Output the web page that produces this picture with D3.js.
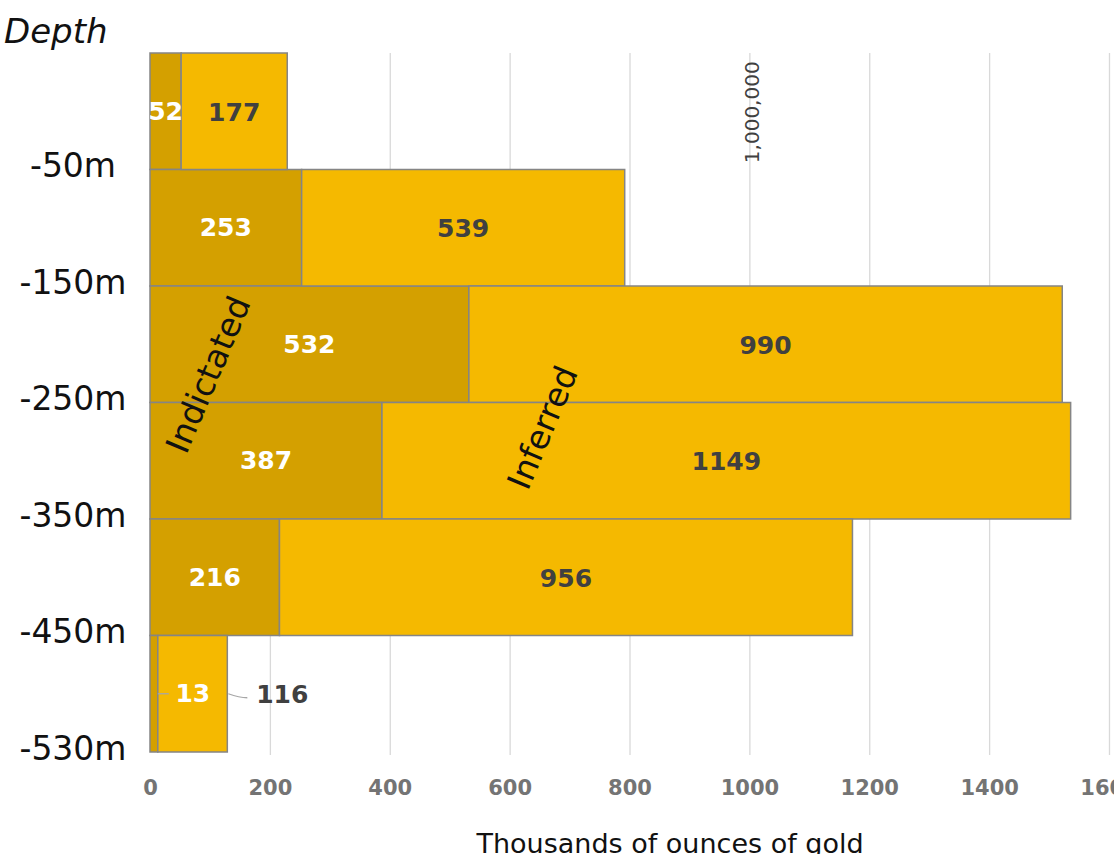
<!DOCTYPE html>
<html>
<head>
<meta charset="utf-8">
<script src="https://cdn.jsdelivr.net/npm/d3@7"></script>
<style>
  body { margin: 0; background: #fff; }
  text { font-family: "DejaVu Sans", sans-serif; }
</style>
</head>
<body>
<div id="chart"></div>
<script>
// Depth bands (label = lower boundary of each band)
const depths = ["-50m", "-150m", "-250m", "-350m", "-450m", "-530m"];
// Thousands of ounces of gold
const indicated = [52, 253, 532, 387, 216, 13];
const inferred = [177, 539, 990, 1149, 956, 116];
const xTicks = [0, 200, 400, 600, 800, 1000, 1200, 1400, 1600];

const WIDTH = 1114;
const HEIGHT = 854;
const PLOT = { left: 150, right: 1109, top: 53, bottom: 752 };

const COLOR_IND = "#d4a000";
const COLOR_INF = "#f5b900";
const STROKE = "#858585";

const svg = d3.select("#chart")
    .append("svg")
    .attr("width", WIDTH)
    .attr("height", HEIGHT);

const x = d3.scaleLinear()
    .domain([0, 1600])
    .range([PLOT.left, PLOT.right]);

const y = d3.scaleBand()
    .domain(depths)
    .range([PLOT.top, PLOT.bottom])
    .padding(0);

// gridlines + tick labels
const xAxis = svg.append("g")
    .attr("transform", `translate(0,${PLOT.bottom + 3})`)
    .call(d3.axisBottom(x)
        .tickValues(xTicks)
        .tickFormat(d3.format("d"))
        .tickSize(-(PLOT.bottom - PLOT.top + 3))
        .tickPadding(25));
xAxis.select(".domain").remove();
xAxis.selectAll(".tick line")
    .attr("stroke", "#d9d9d9")
    .attr("stroke-width", 1.3)
    .attr("opacity", d => d === 0 ? 0 : 1);
xAxis.selectAll(".tick text")
    .attr("fill", "#747474")
    .style("font-size", "21px")
    .style("font-weight", "bold")
    .style("font-family", "'DejaVu Sans', sans-serif");

// 1,000,000 marker on the 1000 gridline
svg.append("text")
    .attr("transform", `translate(${x(1000) + 3},${y(depths[0]) + y.bandwidth() / 2 + 1}) rotate(-90)`)
    .attr("text-anchor", "middle")
    .attr("dominant-baseline", "central")
    .attr("fill", "#404040")
    .style("font-size", "20px")
    .text("1,000,000");

// stacked bars
const rows = depths.map((d, i) => ({ depth: d, ind: indicated[i], inf: inferred[i] }));

const bars = svg.append("g");
bars.selectAll(".ind")
    .data(rows)
    .enter()
    .append("rect")
    .attr("class", "ind")
    .attr("x", x(0))
    .attr("y", d => y(d.depth))
    .attr("width", d => x(d.ind) - x(0))
    .attr("height", y.bandwidth())
    .attr("fill", COLOR_IND)
    .attr("stroke", STROKE)
    .attr("stroke-width", 1.5);

bars.selectAll(".inf")
    .data(rows)
    .enter()
    .append("rect")
    .attr("class", "inf")
    .attr("x", d => x(d.ind))
    .attr("y", d => y(d.depth))
    .attr("width", d => x(d.ind + d.inf) - x(d.ind))
    .attr("height", y.bandwidth())
    .attr("fill", COLOR_INF)
    .attr("stroke", STROKE)
    .attr("stroke-width", 1.5);

// data labels (clipped to plot area)
svg.append("clipPath")
    .attr("id", "plotClip")
    .append("rect")
    .attr("x", PLOT.left)
    .attr("y", PLOT.top)
    .attr("width", PLOT.right - PLOT.left + 60)
    .attr("height", PLOT.bottom - PLOT.top);

const labels = svg.append("g").attr("clip-path", "url(#plotClip)");
const last = depths[depths.length - 1];

// the smallest band has its labels pushed aside, with leader lines
const indX = d => d.depth === last ? x(d.ind) + 35 : x(d.ind / 2);
const infX = d => d.depth === last ? x(d.ind + d.inf) + 55 : x(d.ind + d.inf / 2);

labels.selectAll(".indLabel")
    .data(rows)
    .enter()
    .append("text")
    .attr("x", indX)
    .attr("y", d => y(d.depth) + y.bandwidth() / 2)
    .attr("text-anchor", "middle")
    .attr("dominant-baseline", "central")
    .attr("fill", "#ffffff")
    .style("font-size", "25px")
    .style("font-weight", "bold")
    .text(d => d.ind);

labels.selectAll(".infLabel")
    .data(rows)
    .enter()
    .append("text")
    .attr("x", infX)
    .attr("y", d => y(d.depth) + y.bandwidth() / 2 + 1)
    .attr("text-anchor", "middle")
    .attr("dominant-baseline", "central")
    .attr("fill", "#404040")
    .style("font-size", "25px")
    .style("font-weight", "bold")
    .text(d => d.inf);

// leader lines for the last band
const lastRow = rows[rows.length - 1];
const cy = y(last) + y.bandwidth() / 2;
svg.append("path")
    .attr("d", `M${x(lastRow.ind)},${cy} L${x(lastRow.ind) + 11},${cy}`)
    .attr("stroke", "#a6a6a6")
    .attr("stroke-width", 1.3)
    .attr("fill", "none");
svg.append("path")
    .attr("d", `M${x(lastRow.ind + lastRow.inf) + 1},${cy} Q${x(lastRow.ind + lastRow.inf) + 12},${cy + 4} ${x(lastRow.ind + lastRow.inf) + 20},${cy + 4}`)
    .attr("stroke", "#a6a6a6")
    .attr("stroke-width", 1.3)
    .attr("fill", "none");

// depth labels at the lower boundary of each band
svg.append("g")
    .selectAll("text")
    .data(depths)
    .enter()
    .append("text")
    .attr("x", 73)
    .attr("y", d => y(d) + y.bandwidth() - 4)
    .attr("text-anchor", "middle")
    .attr("dominant-baseline", "central")
    .attr("fill", "#111")
    .style("font-size", "33px")
    .text(d => d);

svg.append("text")
    .attr("x", 4)
    .attr("y", 43)
    .attr("fill", "#111")
    .style("font-size", "34px")
    .style("font-style", "italic")
    .text("Depth");

// series annotations
svg.append("text")
    .attr("transform", `translate(${x(97)},${y("-250m") + y.bandwidth() - 28}) rotate(-67)`)
    .attr("text-anchor", "middle")
    .attr("dominant-baseline", "central")
    .attr("fill", "#111")
    .style("font-size", "33px")
    .text("Indictated");

svg.append("text")
    .attr("transform", `translate(${x(655)},${y("-350m") + 25}) rotate(-67)`)
    .attr("text-anchor", "middle")
    .attr("dominant-baseline", "central")
    .attr("fill", "#111")
    .style("font-size", "33px")
    .text("Inferred");

// x axis title
svg.append("text")
    .attr("x", 670)
    .attr("y", 853)
    .attr("text-anchor", "middle")
    .attr("fill", "#111")
    .style("font-size", "27px")
    .text("Thousands of ounces of gold");
</script>
</body>
</html>
